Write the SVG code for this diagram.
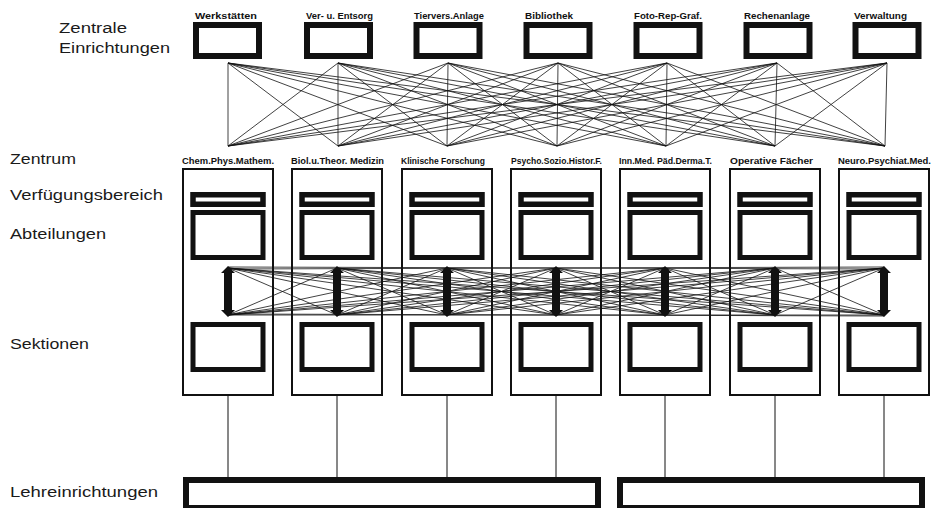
<svg xmlns="http://www.w3.org/2000/svg" width="941" height="508" viewBox="0 0 941 508">
<style>
.bg{fill:#fff}
.side{font-family:"Liberation Sans",Arial,sans-serif;font-size:14px;fill:#1a1a1a}
.tl{font-family:"Liberation Sans",Arial,sans-serif;font-size:8.5px;font-weight:bold;fill:#111}
.cl{font-family:"Liberation Sans",Arial,sans-serif;font-size:9px;font-weight:bold;fill:#111}
.tb{fill:#fff;stroke:#111;stroke-width:6}
.col{fill:none;stroke:#111;stroke-width:2}
.ib{fill:#fff;stroke:#111;stroke-width:5}
.bar{fill:#fff;stroke:#111;stroke-width:5.5}
.arr{fill:#111}
.ln{fill:none;stroke:#111;stroke-width:0.8}
.vl{fill:none;stroke:#111;stroke-width:1}
.lb{fill:#fff;stroke:#111;stroke-width:6}
</style>
<rect class="bg" x="0" y="0" width="941" height="508"/>

<g id="side-labels">
<text class="side" x="59" y="33" textLength="68" lengthAdjust="spacingAndGlyphs">Zentrale</text>
<text class="side" x="59" y="53" textLength="111" lengthAdjust="spacingAndGlyphs">Einrichtungen</text>
<text class="side" x="10" y="164" textLength="66" lengthAdjust="spacingAndGlyphs">Zentrum</text>
<text class="side" x="10" y="200" textLength="153" lengthAdjust="spacingAndGlyphs">Verfügungsbereich</text>
<text class="side" x="10" y="239" textLength="96" lengthAdjust="spacingAndGlyphs">Abteilungen</text>
<text class="side" x="10" y="349" textLength="79" lengthAdjust="spacingAndGlyphs">Sektionen</text>
<text class="side" x="10" y="497" textLength="148" lengthAdjust="spacingAndGlyphs">Lehreinrichtungen</text>
</g>

<g id="connectors">
<path class="ln" d="M228 63L228 146M228 63L338 146M228 63L447 146M228 63L557 146M228 63L666 146M228 63L775 146M228 63L885 146"/>
<path class="ln" d="M338 63L228 146M338 63L338 146M338 63L447 146M338 63L557 146M338 63L666 146M338 63L775 146M338 63L885 146"/>
<path class="ln" d="M448 63L228 146M448 63L338 146M448 63L447 146M448 63L557 146M448 63L666 146M448 63L775 146M448 63L885 146"/>
<path class="ln" d="M558 63L228 146M558 63L338 146M558 63L447 146M558 63L557 146M558 63L666 146M558 63L775 146M558 63L885 146"/>
<path class="ln" d="M667 63L228 146M667 63L338 146M667 63L447 146M667 63L557 146M667 63L666 146M667 63L775 146M667 63L885 146"/>
<path class="ln" d="M777 63L228 146M777 63L338 146M777 63L447 146M777 63L557 146M777 63L666 146M777 63L775 146M777 63L885 146"/>
<path class="ln" d="M887 63L228 146M887 63L338 146M887 63L447 146M887 63L557 146M887 63L666 146M887 63L775 146M887 63L885 146"/>

<path class="ln" d="M228 268L337 315M228 268L447 315M228 268L556 315M228 268L665 315M228 268L775 315M228 268L884 315M228 315L337 268M228 315L447 268M228 315L556 268M228 315L665 268M228 315L775 268M228 315L884 268"/>
<path class="ln" d="M337 268L447 315M337 268L556 315M337 268L665 315M337 268L775 315M337 268L884 315M337 315L447 268M337 315L556 268M337 315L665 268M337 315L775 268M337 315L884 268"/>
<path class="ln" d="M447 268L556 315M447 268L665 315M447 268L775 315M447 268L884 315M447 315L556 268M447 315L665 268M447 315L775 268M447 315L884 268"/>
<path class="ln" d="M556 268L665 315M556 268L775 315M556 268L884 315M556 315L665 268M556 315L775 268M556 315L884 268"/>
<path class="ln" d="M665 268L775 315M665 268L884 315M665 315L775 268M665 315L884 268"/>
<path class="ln" d="M775 268L884 315M775 315L884 268"/>
<path class="ln" d="M228 267L884 269M228 269L884 267M228 315L884 315M228 314L884 316"/>

<path class="vl" d="M228 396L228 477M337 396L337 477M447 396L447 477M556 396L556 477M665 396L665 477M775 396L775 477M884 396L884 477"/>
</g>

<g id="werkstaetten"><text class="tl" x="195" y="19" textLength="62" lengthAdjust="spacingAndGlyphs">Werkstätten</text><rect class="tb" x="196" y="25" width="63" height="31"/></g>
<g id="ver-entsorg"><text class="tl" x="306" y="19" textLength="67" lengthAdjust="spacingAndGlyphs">Ver- u. Entsorg</text><rect class="tb" x="307" y="25" width="63" height="31"/></g>
<g id="tiervers"><text class="tl" x="414" y="19" textLength="70" lengthAdjust="spacingAndGlyphs">Tiervers.Anlage</text><rect class="tb" x="416.5" y="25" width="63" height="31"/></g>
<g id="bibliothek"><text class="tl" x="525" y="19" textLength="48" lengthAdjust="spacingAndGlyphs">Bibliothek</text><rect class="tb" x="526.5" y="25" width="63" height="31"/></g>
<g id="foto"><text class="tl" x="634" y="19" textLength="68" lengthAdjust="spacingAndGlyphs">Foto-Rep-Graf.</text><rect class="tb" x="636.5" y="25" width="63" height="31"/></g>
<g id="rechenanlage"><text class="tl" x="744" y="19" textLength="66" lengthAdjust="spacingAndGlyphs">Rechenanlage</text><rect class="tb" x="746.5" y="25" width="63" height="31"/></g>
<g id="verwaltung"><text class="tl" x="854" y="19" textLength="53" lengthAdjust="spacingAndGlyphs">Verwaltung</text><rect class="tb" x="855.5" y="25" width="63" height="31"/></g>

<g id="col-chem">
<text class="cl" x="182" y="164" textLength="92" lengthAdjust="spacingAndGlyphs">Chem.Phys.Mathem.</text>
<rect class="col" x="183" y="169" width="90" height="226"/>
<rect class="bar" x="193" y="194.75" width="70" height="9.5"/>
<rect class="ib" x="193" y="212.5" width="70" height="45"/>
<polygon class="arr" points="228,266 235,273 232,273 232,310 235,310 228,317 221,310 224,310 224,273 221,273"/>
<rect class="ib" x="193" y="324.5" width="70" height="45"/>
</g>
<g id="col-biol">
<text class="cl" x="291" y="164" textLength="93" lengthAdjust="spacingAndGlyphs">Biol.u.Theor. Medizin</text>
<rect class="col" x="292" y="169" width="90" height="226"/>
<rect class="bar" x="302" y="194.75" width="70" height="9.5"/>
<rect class="ib" x="302" y="212.5" width="70" height="45"/>
<polygon class="arr" points="337,266 344,273 341,273 341,310 344,310 337,317 330,310 333,310 333,273 330,273"/>
<rect class="ib" x="302" y="324.5" width="70" height="45"/>
</g>
<g id="col-klin">
<text class="cl" x="401" y="164" textLength="84" lengthAdjust="spacingAndGlyphs">Klinische  Forschung</text>
<rect class="col" x="402" y="169" width="90" height="226"/>
<rect class="bar" x="412" y="194.75" width="70" height="9.5"/>
<rect class="ib" x="412" y="212.5" width="70" height="45"/>
<polygon class="arr" points="447,266 454,273 451,273 451,310 454,310 447,317 440,310 443,310 443,273 440,273"/>
<rect class="ib" x="412" y="324.5" width="70" height="45"/>
</g>
<g id="col-psycho">
<text class="cl" x="511" y="164" textLength="91" lengthAdjust="spacingAndGlyphs">Psycho.Sozio.Histor.F.</text>
<rect class="col" x="511" y="169" width="90" height="226"/>
<rect class="bar" x="521" y="194.75" width="70" height="9.5"/>
<rect class="ib" x="521" y="212.5" width="70" height="45"/>
<polygon class="arr" points="556,266 563,273 560,273 560,310 563,310 556,317 549,310 552,310 552,273 549,273"/>
<rect class="ib" x="521" y="324.5" width="70" height="45"/>
</g>
<g id="col-innmed">
<text class="cl" x="619" y="164" textLength="93" lengthAdjust="spacingAndGlyphs">Inn.Med. Päd.Derma.T.</text>
<rect class="col" x="620" y="169" width="90" height="226"/>
<rect class="bar" x="630" y="194.75" width="70" height="9.5"/>
<rect class="ib" x="630" y="212.5" width="70" height="45"/>
<polygon class="arr" points="665,266 672,273 669,273 669,310 672,310 665,317 658,310 661,310 661,273 658,273"/>
<rect class="ib" x="630" y="324.5" width="70" height="45"/>
</g>
<g id="col-operative">
<text class="cl" x="730" y="164" textLength="83" lengthAdjust="spacingAndGlyphs">Operative  Fächer</text>
<rect class="col" x="730" y="169" width="90" height="226"/>
<rect class="bar" x="740" y="194.75" width="70" height="9.5"/>
<rect class="ib" x="740" y="212.5" width="70" height="45"/>
<polygon class="arr" points="775,266 782,273 779,273 779,310 782,310 775,317 768,310 771,310 771,273 768,273"/>
<rect class="ib" x="740" y="324.5" width="70" height="45"/>
</g>
<g id="col-neuro">
<text class="cl" x="838" y="164" textLength="93" lengthAdjust="spacingAndGlyphs">Neuro.Psychiat.Med.</text>
<rect class="col" x="839" y="169" width="90" height="226"/>
<rect class="bar" x="849" y="194.75" width="70" height="9.5"/>
<rect class="ib" x="849" y="212.5" width="70" height="45"/>
<polygon class="arr" points="884,266 891,273 888,273 888,310 891,310 884,317 877,310 880,310 880,273 877,273"/>
<rect class="ib" x="849" y="324.5" width="70" height="45"/>
</g>

<g id="lehre-left"><rect class="lb" x="186" y="480" width="412" height="28"/></g>
<g id="lehre-right"><rect class="lb" x="620" y="480" width="302" height="28"/></g>
</svg>
